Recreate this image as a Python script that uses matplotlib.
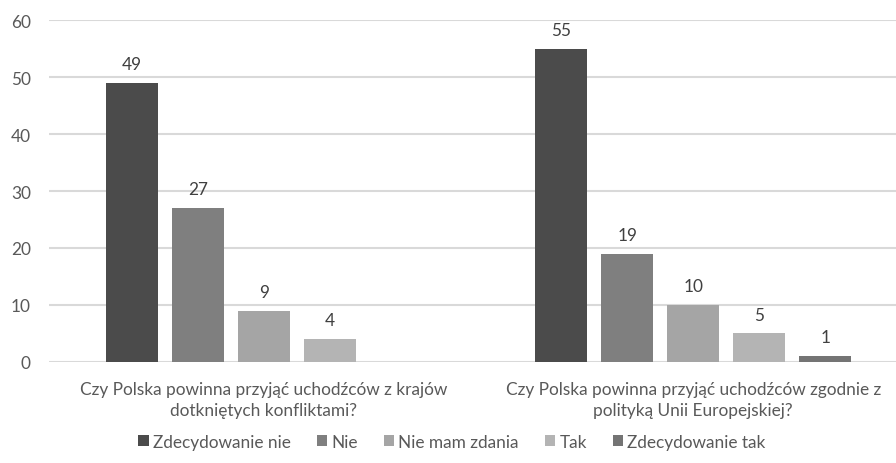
import matplotlib
matplotlib.use("Agg")
import matplotlib.pyplot as plt
import numpy as np

plt.rcParams['font.family'] = ['Lato', 'DejaVu Sans']

categories = ["Czy Polska powinna przyjąć uchodźców z krajów\ndotkniętych konfliktami?",
              "Czy Polska powinna przyjąć uchodźców zgodnie z\npolityką Unii Europejskiej?"]
series = ["Zdecydowanie nie", "Nie", "Nie mam zdania", "Tak", "Zdecydowanie tak"]
values = {
    "Zdecydowanie nie": [49, 55],
    "Nie": [27, 19],
    "Nie mam zdania": [9, 10],
    "Tak": [4, 5],
    "Zdecydowanie tak": [None, 1],
}
colors = ["#4b4b4b", "#7f7f7f", "#a5a5a5", "#b4b4b4", "#747474"]

fig = plt.figure(figsize=(8.96, 4.64), dpi=100)
ax = fig.add_axes([0.0547, 0.2177, 0.9453, 0.737])

x = np.arange(len(categories))
width = 0.121
step = 0.1535
txt = "#595959"
fs = 12.4
for i, s in enumerate(series):
    off = (i - 2) * step
    vals = values[s]
    xs = [xx + off for xx, v in zip(x, vals) if v is not None]
    vs = [v for v in vals if v is not None]
    bars = ax.bar(xs, vs, width=width, color=colors[i], label=s, zorder=3)
    for b, v in zip(bars, vs):
        ax.text(b.get_x() + b.get_width() / 2, v + 1.9, str(v), ha='center', va='bottom',
                fontsize=fs, color="#404040")

ax.set_ylim(0, 60)
ax.set_xlim(-0.5, 1.472)
ax.set_yticks(range(0, 61, 10))
ax.yaxis.grid(True, color="#d9d9d9", linewidth=1.5, zorder=0)
ax.set_axisbelow(True)
for sp in ax.spines.values():
    sp.set_visible(False)
ax.tick_params(axis='y', length=0, labelsize=fs, labelcolor=txt, pad=13)
ax.set_xticks(x)
ax.set_xticklabels(categories, fontsize=fs, color=txt, linespacing=1.35)
ax.tick_params(axis='x', length=0, pad=14)

handles, labels = ax.get_legend_handles_labels()
fig.legend(handles, labels, loc='center', bbox_to_anchor=(452 / 896, 1 - 443 / 464), ncol=5,
           frameon=False, fontsize=fs, labelcolor=txt, handlelength=0.6, handleheight=0.6,
           handletextpad=0.25, columnspacing=1.5)

fig.savefig("out.png", dpi=100)
